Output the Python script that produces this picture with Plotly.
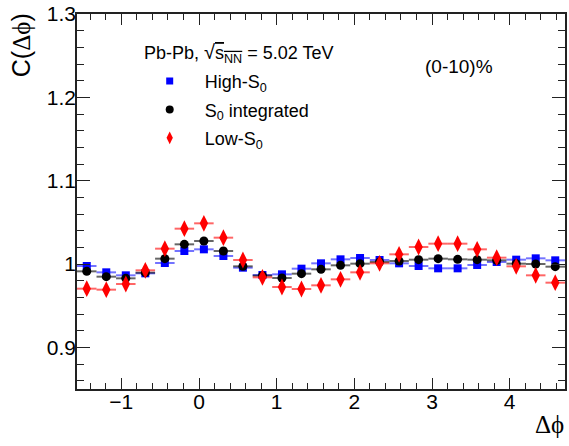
import numpy as np
import plotly.graph_objects as go

# ---- data ----
n_bins = 25
bin_w = 2 * np.pi / n_bins
dphi = [-np.pi / 2 + bin_w * (k + 0.5) for k in range(n_bins)]

high_s0 = [0.9976, 0.9900, 0.9864, 0.9888, 1.0012, 1.0156, 1.0176, 1.0096, 0.9956, 0.9868,
           0.9876, 0.9944, 1.0008, 1.0056, 1.0072, 1.0048, 1.0008, 0.9976, 0.9948, 0.9948,
           0.9988, 1.0024, 1.0052, 1.0068, 1.0044]
s0_integrated = [0.9912, 0.9848, 0.9828, 0.9896, 1.0064, 1.0236, 1.0276, 1.0156, 0.9972, 0.9860,
                 0.9832, 0.9884, 0.9936, 0.9984, 1.0004, 1.0024, 1.0036, 1.0052, 1.0064, 1.0056,
                 1.0052, 1.0044, 1.0004, 1.0000, 0.9968]
low_s0 = [0.9704, 0.9692, 0.9760, 0.9924, 1.0184, 1.0424, 1.0488, 1.0316, 1.0048, 0.9840,
          0.9724, 0.9700, 0.9744, 0.9816, 0.9900, 1.0008, 1.0116, 1.0204, 1.0244, 1.0244,
          1.0176, 1.0076, 0.9972, 0.9864, 0.9776]

x_ticks = [-1, 0, 1, 2, 3, 4]
x_ticktext = ["\u22121", "0", "1", "2", "3", "4"]
y_ticks = [0.9, 1.0, 1.1, 1.2, 1.3]
y_ticktext = ["0.9", "1", "1.1", "1.2", "1.3"]

series = [
    ("High-S<sub>0</sub>", high_s0, "#0000ff", "rgba(0,0,255,0.55)", "square", 8, 7),
    ("S<sub>0</sub> integrated", s0_integrated, "#000000", "rgba(0,0,0,0.6)", "circle", 9, 8),
    ("Low-S<sub>0</sub>", low_s0, "#ff0000", "rgba(255,0,0,0.6)", "diamond-tall", 12, 9),
]

W, H = 569, 446
ML, MR, MT, MB = 77, 2, 13, 57
FONT = "Liberation Sans, Arial, sans-serif"

fig = go.Figure()
for i, (name, vals, col, ecol, sym, sz, lsz) in enumerate(series):
    fig.add_trace(go.Scatter(
        x=dphi, y=vals, mode="markers", showlegend=False,
        marker=dict(symbol=sym, size=sz, color=col, line=dict(width=0)),
        error_x=dict(type="constant", value=bin_w / 2, color=ecol, thickness=2, width=0),
    ))
for i, (name, vals, col, ecol, sym, sz, lsz) in enumerate(series):
    # legend entry (smaller markers as in the reference legend)
    fig.add_trace(go.Scatter(
        x=[None], y=[None], mode="markers", name="&nbsp;&nbsp;&nbsp;" + name,
        legendgroup=str(i), showlegend=True,
        marker=dict(symbol=sym, size=lsz, color=col, line=dict(width=0)),
    ))

axis_common = dict(
    showline=True, linecolor="#222", linewidth=1.5, mirror="allticks",
    ticks="inside", tickcolor="#222", tickwidth=1,
    showgrid=False, zeroline=False,
    tickfont=dict(family=FONT, size=21, color="#000"),
)

fig.update_xaxes(
    range=[-np.pi / 2, 3 * np.pi / 2], tickvals=x_ticks,
    ticktext=x_ticktext, ticklen=11, ticklabelstandoff=-7,
    minor=dict(dtick=0.2, tick0=0, ticks="inside", ticklen=6, tickcolor="#222", tickwidth=1),
    **axis_common,
)
fig.update_yaxes(
    range=[0.85, 1.3], tickvals=y_ticks, ticktext=y_ticktext, ticklen=13, ticklabelstandoff=-5,
    minor=dict(dtick=0.02, tick0=0.9, ticks="inside", ticklen=7, tickcolor="#222", tickwidth=1),
    **axis_common,
)

def px_x(p):
    return (p - ML) / (W - ML - MR)

def px_y(p):
    return (H - MB - p) / (H - MT - MB)

annotations = [
    dict(text="Pb-Pb, <span style='font-size:20px'>\u221a</span><span style='text-decoration:overline'>s<sub>NN</sub></span> = 5.02 TeV",
         x=px_x(142), y=px_y(53), xanchor="left", yanchor="middle",
         font=dict(family=FONT, size=18, color="#000")),
    dict(text="(0-10)%", x=px_x(461), y=px_y(66), xanchor="center", yanchor="middle",
         font=dict(family=FONT, size=19, color="#000")),
    dict(text="C(<span style='font-family:Liberation Serif'>\u0394\u03d5</span>)",
         x=px_x(21), y=px_y(10), xanchor="center", yanchor="top", textangle=-90,
         font=dict(family=FONT, size=25, color="#000")),
    dict(text="\u0394\u03d5", x=px_x(568), y=px_y(425), xanchor="right", yanchor="middle",
         font=dict(family="Liberation Serif, DejaVu Serif, serif", size=25, color="#000")),
]
for a in annotations:
    a.update(xref="paper", yref="paper", showarrow=False)

fig.update_layout(
    width=W, height=H,
    margin=dict(l=ML, r=MR, t=MT, b=MB),
    paper_bgcolor="white", plot_bgcolor="white",
    font=dict(family=FONT, color="#000"),
    annotations=annotations,
    showlegend=True,
    legend=dict(x=px_x(150), y=px_y(62), xanchor="left", yanchor="top",
                bgcolor="rgba(0,0,0,0)", font=dict(family=FONT, size=18, color="#000"),
                tracegroupgap=2, itemwidth=30),
)

fig.write_html("out.html")
